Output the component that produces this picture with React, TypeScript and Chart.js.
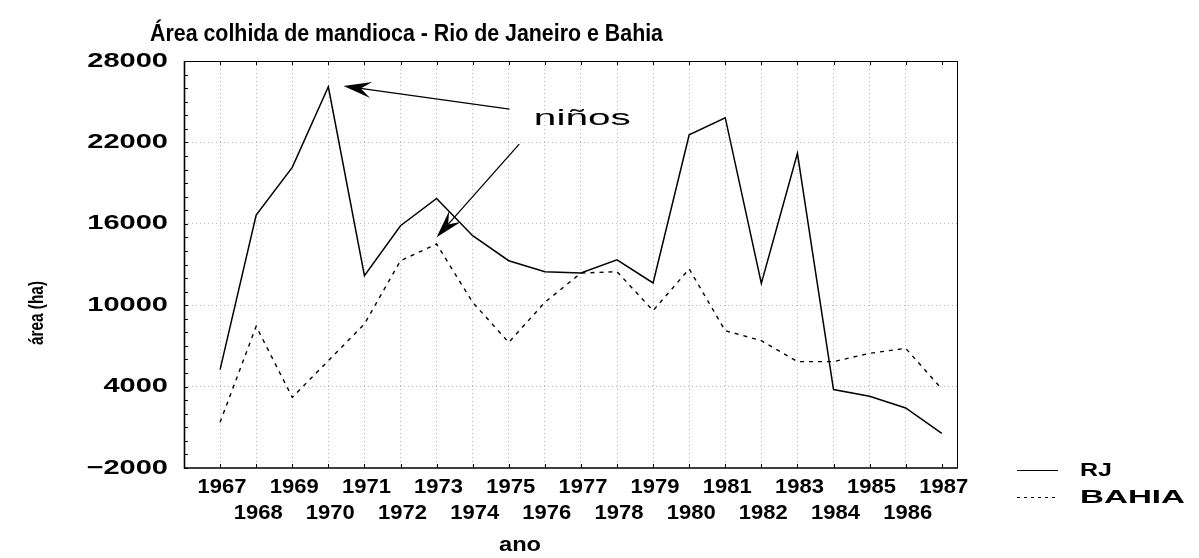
import React, { useEffect, useRef } from 'react';
import { Chart, registerables } from 'chart.js';

Chart.register(...registerables);

// ---------- data ----------
const years = [1967, 1968, 1969, 1970, 1971, 1972, 1973, 1974, 1975, 1976, 1977, 1978, 1979, 1980, 1981, 1982, 1983, 1984, 1985, 1986, 1987];
const rjValues = [5250, 16650, 20160, 26100, 12180, 15860, 17870, 15120, 13280, 12470, 12370, 13350, 11640, 22560, 23820, 11610, 21190, 3780, 3290, 2425, 560];
const baValues = [1370, 8440, 3210, 5910, 8615, 13280, 14510, 10210, 7260, 10210, 12370, 12470, 9600, 12670, 8120, 7390, 5840, 5840, 6450, 6820, 3830];
const seriesNames = ['RJ', 'BAHIA'];
const yMajorTicks = [-2000, 4000, 10000, 16000, 22000, 28000];
const yMin = -2000;
const yMax = 28000;
const xMin = 1966;
const xMax = 1987.45;
const chartTitle = 'Área colhida de mandioca - Rio de Janeiro e Bahia';
const xTitle = 'ano';
const yTitle = 'área (ha)';
const noteText = 'niños';
// arrows in data units: [tailYear, tailValue, tipYear, tipValue]
const noteArrows = [
  [1975.02, 24450, 1970.42, 26150],
  [1975.29, 21870, 1973.0, 15000],
];
const notePos = [1977.04, 23700];

const FONT = '"Liberation Sans", Arial, sans-serif';

function stretchText(ctx: CanvasRenderingContext2D, text: string, x: number, y: number, font: string, sx: number, align: string) {
  ctx.save();
  ctx.font = font;
  const w = ctx.measureText(text).width * sx;
  const left = align === 'right' ? x - w : align === 'center' ? x - w / 2 : x;
  ctx.translate(left, y);
  ctx.scale(sx, 1);
  ctx.textAlign = 'left';
  ctx.textBaseline = 'middle';
  ctx.fillStyle = '#000';
  ctx.fillText(text, 0, 0);
  ctx.restore();
}

function fitText(ctx: CanvasRenderingContext2D, text: string, x: number, y: number, font: string, width: number, align: string) {
  ctx.save();
  ctx.font = font;
  const sx = width / ctx.measureText(text).width;
  ctx.restore();
  stretchText(ctx, text, x, y, font, sx, align);
}

function arrow(ctx: CanvasRenderingContext2D, x1: number, y1: number, x2: number, y2: number) {
  const dx = x2 - x1, dy = y2 - y1;
  const len = Math.hypot(dx, dy);
  const ux = dx / len, uy = dy / len;
  const px = -uy, py = ux;
  const L = 28, W = 8;
  ctx.save();
  ctx.strokeStyle = '#000';
  ctx.fillStyle = '#000';
  ctx.lineWidth = 1.3;
  ctx.beginPath();
  ctx.moveTo(x1, y1);
  ctx.lineTo(x2 - ux * 10, y2 - uy * 10);
  ctx.stroke();
  ctx.beginPath();
  ctx.moveTo(x2, y2);
  ctx.lineTo(x2 - ux * L + px * W, y2 - uy * L + py * W);
  ctx.lineTo(x2 - ux * L * 0.62, y2 - uy * L * 0.62);
  ctx.lineTo(x2 - ux * L - px * W, y2 - uy * L - py * W);
  ctx.closePath();
  ctx.fill();
  ctx.restore();
}

const decorPlugin = {
  id: 'decor',
  afterDraw(chart: any) {
    const ctx: CanvasRenderingContext2D = chart.ctx;
    const { left, right, top, bottom } = chart.chartArea;
    const xs = chart.scales.x;
    const ys = chart.scales.y;
    ctx.save();
    // frame
    ctx.strokeStyle = '#000';
    ctx.lineWidth = 1;
    ctx.beginPath();
    ctx.moveTo(left, top + 0.5);
    ctx.lineTo(right, top + 0.5);
    ctx.moveTo(right - 0.5, top);
    ctx.lineTo(right - 0.5, bottom);
    ctx.stroke();
    ctx.lineWidth = 1.6;
    ctx.beginPath();
    ctx.moveTo(left + 0.5, top);
    ctx.lineTo(left + 0.5, bottom);
    ctx.lineTo(right, bottom);
    ctx.stroke();
    // inner ticks
    ctx.lineWidth = 1;
    ctx.beginPath();
    ys.ticks.forEach((t: any) => {
      const y = Math.round(ys.getPixelForValue(t.value)) + 0.5;
      ctx.moveTo(left, y);
      ctx.lineTo(left + 4, y);
    });
    years.forEach((yr) => {
      const x = Math.round(xs.getPixelForValue(yr)) + 0.5;
      ctx.moveTo(x, top);
      ctx.lineTo(x, top + 4);
      ctx.moveTo(x, bottom);
      ctx.lineTo(x, bottom - 4);
    });
    ctx.stroke();
    ctx.restore();

    // y tick labels
    yMajorTicks.forEach((v) => {
      const label = v < 0 ? '\u2212' + String(-v) : String(v);
      stretchText(ctx, label, left - 16, ys.getPixelForValue(v), 'bold 20px ' + FONT, 1.45, 'right');
    });
    // x tick labels (two rows)
    years.forEach((yr, i) => {
      const x = xs.getPixelForValue(yr) + 2;
      const y = i % 2 === 0 ? bottom + 19 : bottom + 45;
      stretchText(ctx, String(yr), x, y, 'bold 20px ' + FONT, 1.1, 'center');
    });
    // title
    fitText(ctx, chartTitle, 150, 34, 'bold 24px ' + FONT, 513, 'left');
    // axis titles
    fitText(ctx, xTitle, 520, 545, 'bold 20px ' + FONT, 42, 'center');
    ctx.save();
    ctx.translate(37, 313);
    ctx.rotate(-Math.PI / 2);
    fitText(ctx, yTitle, 0, 0, 'bold 21px ' + FONT, 64, 'center');
    ctx.restore();
    // legend
    ctx.save();
    ctx.strokeStyle = '#000';
    ctx.lineWidth = 1;
    ctx.beginPath();
    ctx.moveTo(1017, 470.5);
    ctx.lineTo(1058, 470.5);
    ctx.stroke();
    ctx.setLineDash([3, 4]);
    ctx.beginPath();
    ctx.moveTo(1017, 497.5);
    ctx.lineTo(1058, 497.5);
    ctx.stroke();
    ctx.restore();
    fitText(ctx, seriesNames[0], 1080, 471, 'bold 19px ' + FONT, 32, 'left');
    fitText(ctx, seriesNames[1], 1080, 498, 'bold 19px ' + FONT, 105, 'left');
    // annotation
    noteArrows.forEach((a) => {
      arrow(ctx, xs.getPixelForValue(a[0]), ys.getPixelForValue(a[1]), xs.getPixelForValue(a[2]), ys.getPixelForValue(a[3]));
    });
    fitText(ctx, noteText, xs.getPixelForValue(notePos[0]), ys.getPixelForValue(notePos[1]), '22px ' + FONT, 97, 'center');
  },
};

export default function App() {
  const ref = useRef<HTMLCanvasElement | null>(null);
  useEffect(() => {
    if (!ref.current) return;
    const chart = new Chart(ref.current, {
      type: 'line',
      data: {
        datasets: [
          {
            label: seriesNames[0],
            data: years.map((yr, i) => ({ x: yr, y: rjValues[i] })),
            borderColor: '#000',
            borderWidth: 1.5,
            pointRadius: 0,
            fill: false,
            tension: 0,
          },
          {
            label: seriesNames[1],
            data: years.map((yr, i) => ({ x: yr, y: baValues[i] })),
            borderColor: '#000',
            borderWidth: 1.4,
            borderDash: [4, 5],
            pointRadius: 0,
            fill: false,
            tension: 0,
          },
        ],
      },
      options: {
        animation: false,
        responsive: false,
        devicePixelRatio: 1,
        layout: { padding: { left: 0, top: 61, right: 241, bottom: 0 } },
        plugins: { legend: { display: false }, title: { display: false }, tooltip: { enabled: false } },
        scales: {
          x: {
            type: 'linear',
            min: xMin,
            max: xMax,
            ticks: { display: false, stepSize: 1, autoSkip: false },
            grid: {
              drawTicks: false,
              color: (c: any) => (c.tick && Number.isInteger(c.tick.value) && c.tick.value >= years[0] ? '#b8b8b8' : 'rgba(0,0,0,0)'),
              lineWidth: 1,
            },
            border: { display: false, dash: [1, 3] },
            afterFit: (s: any) => { s.height = 90; },
          },
          y: {
            type: 'linear',
            min: yMin,
            max: yMax,
            ticks: { display: false, stepSize: 1000, autoSkip: false },
            grid: {
              drawTicks: false,
              color: (c: any) => (c.tick && yMajorTicks.includes(c.tick.value) && c.tick.value > yMin && c.tick.value < yMax ? '#b8b8b8' : 'rgba(0,0,0,0)'),
              lineWidth: 1,
            },
            border: { display: false, dash: [1, 3] },
            afterFit: (s: any) => { s.width = 184; },
          },
        },
      },
      plugins: [decorPlugin],
    } as any);
    return () => chart.destroy();
  }, []);
  return (
    <div style={{ position: 'fixed', left: 0, top: 0, width: 1199, height: 558, background: '#fff' }}>
      <canvas ref={ref} width={1199} height={558} style={{ display: 'block' }} />
    </div>
  );
}
